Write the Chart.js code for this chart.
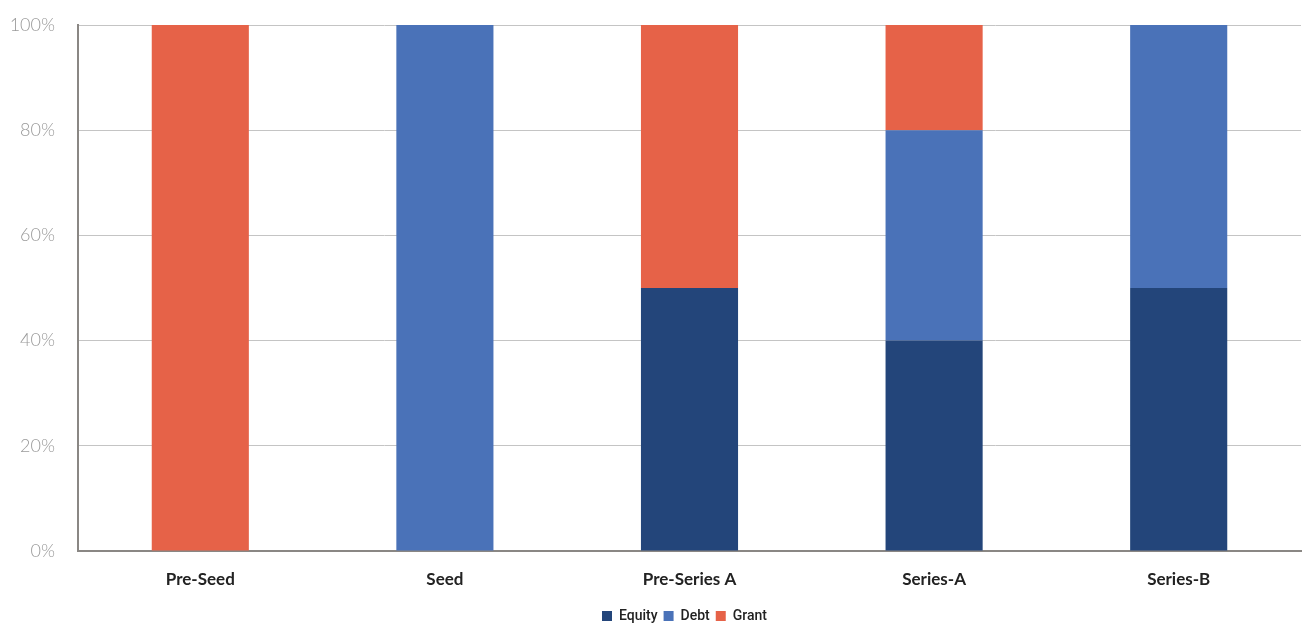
<!DOCTYPE html>
<html>
<head>
<meta charset="utf-8">
<script src="https://cdn.jsdelivr.net/npm/chart.js@4/dist/chart.umd.min.js"></script>
<style>
  html, body { margin: 0; padding: 0; background: #fff; }
  #wrap { width: 1304px; height: 626px; position: relative; }
</style>
</head>
<body>
<div id="wrap"><canvas id="c" width="1304" height="626"></canvas></div>
<script>
// Funding stage categories
const stages = ['Pre-Seed', 'Seed', 'Pre-Series A', 'Series-A', 'Series-B'];

// Share of funding by instrument (%)
const equity = [0, 0, 50, 40, 50];
const debt   = [0, 100, 0, 40, 50];
const grant  = [100, 0, 50, 20, 0];

// Y-axis tick values
const yTicks = [0, 20, 40, 60, 80, 100];

const colors = { equity: '#23457a', debt: '#4a72b8', grant: '#e66248' };

// Move the legend a little right of the canvas centre and closer to the bottom edge
const legendShift = {
  id: 'legendShift',
  afterLayout(chart) {
    const lg = chart.legend;
    if (lg) {
      lg.left += 34;
      lg.right += 34;
      lg.top += 7;
      lg.bottom += 7;
    }
  }
};

new Chart(document.getElementById('c'), {
  type: 'bar',
  data: {
    labels: stages,
    datasets: [
      { label: 'Equity', data: equity, backgroundColor: colors.equity },
      { label: 'Debt',   data: debt,   backgroundColor: colors.debt },
      { label: 'Grant',  data: grant,  backgroundColor: colors.grant }
    ]
  },
  plugins: [legendShift],
  options: {
    responsive: false,
    animation: false,
    layout: { padding: { left: 0, right: 3, top: 25, bottom: 0 } },
    datasets: { bar: { categoryPercentage: 1, barPercentage: 0.397 } },
    plugins: {
      tooltip: { enabled: false },
      legend: {
        position: 'bottom',
        labels: {
          boxWidth: 10,
          boxHeight: 10,
          padding: 6,
          color: '#222',
          font: { family: 'Roboto', size: 14, weight: '500' }
        }
      }
    },
    scales: {
      x: {
        stacked: true,
        grid: { display: false, drawTicks: false },
        border: { color: '#8a8784', width: 2 },
        ticks: {
          padding: 18,
          color: '#222',
          font: { family: 'Lato', size: 17, weight: 'bold' }
        },
        afterFit: s => { s.height = 45; }
      },
      y: {
        stacked: true,
        min: 0,
        max: 100,
        afterBuildTicks: s => { s.ticks = yTicks.map(v => ({ value: v })); },
        grid: { color: '#c4c4c4', lineWidth: 1, drawTicks: false },
        border: { color: '#8a8784', width: 2 },
        ticks: {
          padding: 23,
          color: '#9a9a9a',
          font: { family: 'Lato', size: 18, weight: '300' },
          callback: v => v + '%'
        },
        afterFit: s => { s.width = 78; s.paddingTop = 0; s.paddingBottom = 0; }
      }
    }
  }
});
</script>
</body>
</html>
